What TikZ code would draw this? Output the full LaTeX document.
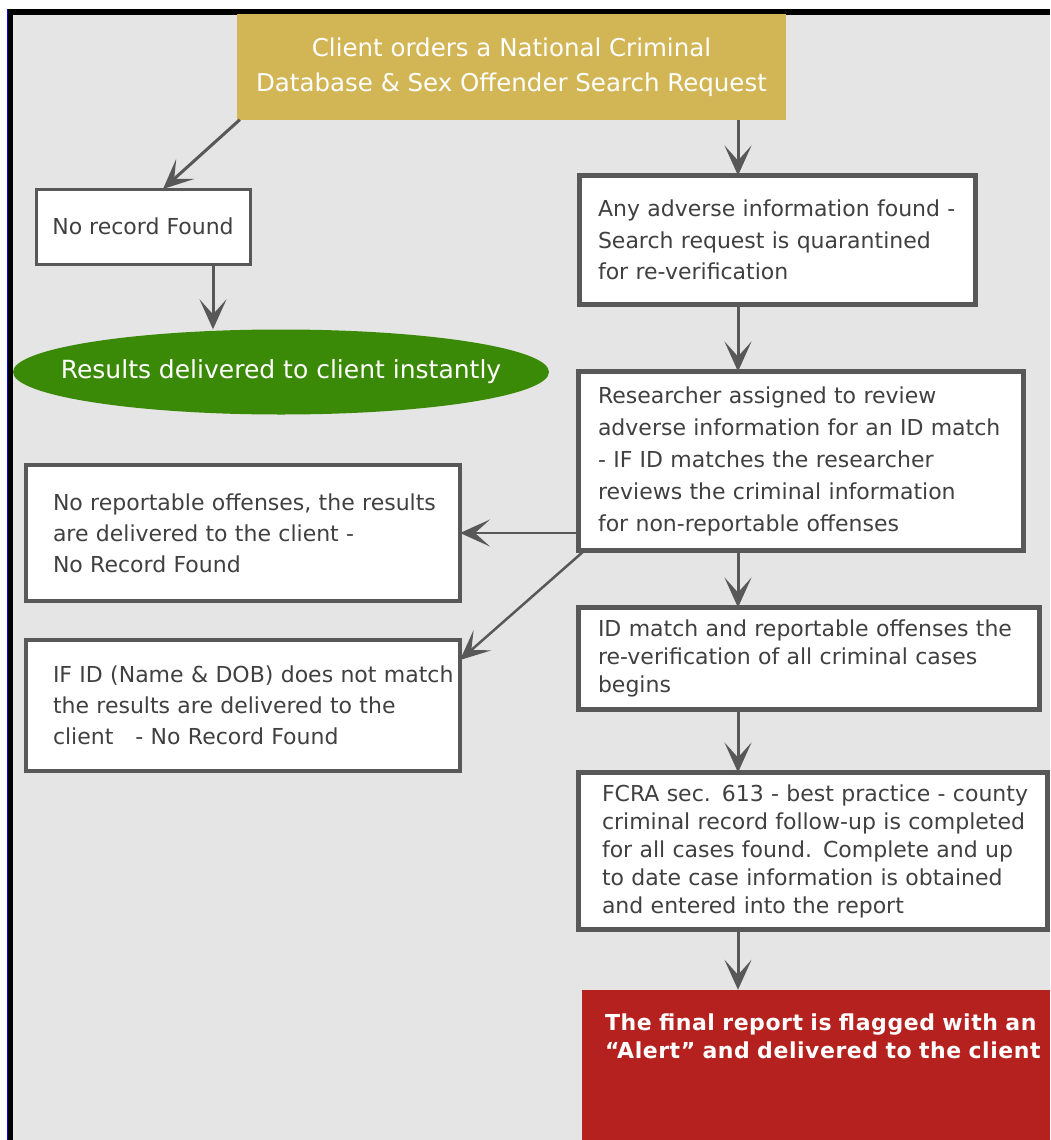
\documentclass[tikz,border=0pt]{standalone}
\usepackage{fontspec}
\setmainfont{DejaVu Sans}
\newfontfamily\alertfont[LetterSpace=2.5]{DejaVu Sans}
\usetikzlibrary{arrows.meta,shapes.geometric}
\definecolor{bg}{HTML}{E5E5E5}
\definecolor{gold}{HTML}{D2B656}
\definecolor{leaf}{HTML}{3B8A07}
\definecolor{alertred}{HTML}{B5211E}
\definecolor{edge}{HTML}{585858}
\definecolor{ink}{HTML}{404040}
\newcommand{\ml}[1]{\mbox{#1}}
\begin{document}
\begin{tikzpicture}[x=1pt,y=-1pt,
  box/.style={draw=edge, fill=white, line width=5pt, inner sep=0pt, outer sep=0pt,
    align=left, text=ink, font=\fontsize{22}{31.5}\selectfont},
  tightbox/.style={box, font=\fontsize{22}{28}\selectfont},
  arr/.style={draw=edge, line width=3pt, -{Stealth[length=30pt,width=27pt,inset=15pt]}},
]
\useasboundingbox (0,0) rectangle (1050,1140);
\fill[white] (0,0) rectangle (1050,1140);
\fill[bg] (13,15) rectangle (1050,1140);
\fill[black] (7,9) rectangle (1050,15);
\fill[black] (7,9) rectangle (13,1140);
\draw[blue, line width=1pt] (7.5,9) -- (7.5,1140);

\coordinate (spine) at (738,0);
\coordinate (lspine) at (213,0);

\node[fill=gold, minimum width=549, minimum height=105, inner sep=0pt, text=white,
  align=center, font=\fontsize{24.5}{35}\selectfont] (top) at (511.5,67)
  {Client orders a National Criminal\\Database \& Sex Offender Search Request};

\node[box, line width=3pt, minimum width=214, minimum height=75, align=center] (norec)
  at (143,226.5) {No record Found};

\node[ellipse, fill=leaf, minimum width=536, minimum height=85, inner sep=0pt,
  text=white, font=\fontsize{25}{30}\selectfont] (res) at (281,372)
  {\makebox[0pt]{Results delivered to client instantly}};

\node[box, minimum width=396, minimum height=129, text width=359] (adv) at (777.5,240)
  {\ml{Any adverse information found -}\\\ml{Search request is quarantined}\\\ml{for re-verification}};

\node[box, minimum width=445, minimum height=179, text width=406, font=\fontsize{22}{32}\selectfont] (research) at (801,461)
  {\ml{Researcher assigned to review}\\\ml{adverse information for an ID match}\\\ml{- IF ID matches the researcher}\\\ml{reviews the criminal information}\\\ml{for non-reportable offenses}};

\node[box, line width=4pt, minimum width=434, minimum height=136, text width=380, font=\fontsize{22}{31}\selectfont] (noreport) at (243,533)
  {\ml{No reportable offenses, the results}\\\ml{are delivered to the client -}\\\ml{No Record Found}};

\node[box, line width=4pt, minimum width=434, minimum height=131, text width=380, font=\fontsize{22}{31}\selectfont] (ifid) at (243,705.5)
  {\ml{IF ID (Name \& DOB) does not match}\\\ml{the results are delivered to the}\\\ml{client \ \ - No Record Found}};

\node[tightbox, minimum width=461, minimum height=102, text width=422] (idmatch) at (809,658.5)
  {\ml{ID match and reportable offenses the}\\\ml{re-verification of all criminal cases}\\\ml{begins}};

\node[tightbox, minimum width=468.5, minimum height=157, text width=421.5] (fcra) at (812.75,851)
  {\ml{FCRA sec. 613 - best practice - county}\\\ml{criminal record follow-up is completed}\\\ml{for all cases found. Complete and up}\\\ml{to date case information is obtained}\\\ml{and entered into the report}};

\node[fill=alertred, minimum width=468, minimum height=92, inner sep=0pt, text width=422,
  align=left, text=white, font=\alertfont\bfseries\fontsize{22}{28}\selectfont] (final) at (816,1036)
  {\ml{The final report is flagged with an}\\\ml{“Alert” and delivered to the client}};
\fill[alertred] (final.south west) rectangle (1050,1140);

\draw[arr] ([xshift=3pt]top.south west) -- ([xshift=20pt]norec.north);
\draw[arr] (top.south -| spine) -- (adv.north -| spine);
\draw[arr] (norec.south -| lspine) -- (res.north -| lspine);
\draw[arr] (adv.south -| spine) -- (research.north -| spine);
\draw[arr, line width=2.5pt] (research.west |- noreport.east) -- (noreport.east);
\draw[arr, line width=2.5pt] ([xshift=6pt]research.south west) -- ([yshift=-20pt]ifid.north east);
\draw[arr] (research.south -| spine) -- (idmatch.north -| spine);
\draw[arr] (idmatch.south -| spine) -- (fcra.north -| spine);
\draw[arr] (fcra.south -| spine) -- (final.north -| spine);
\end{tikzpicture}
\end{document}
